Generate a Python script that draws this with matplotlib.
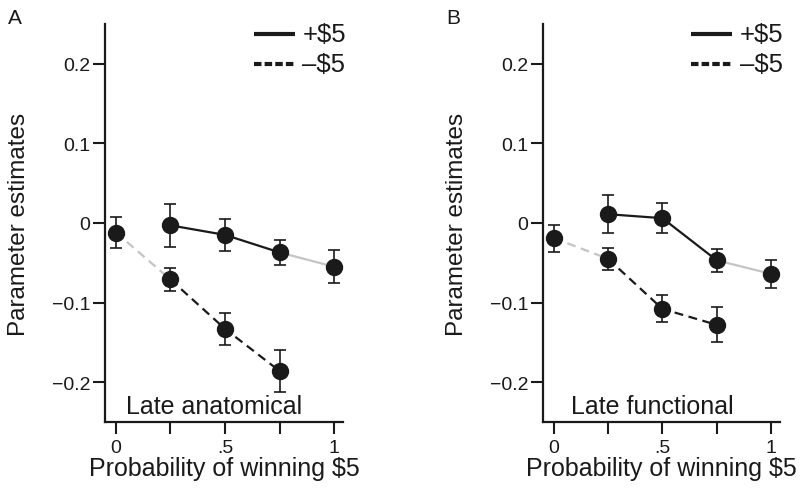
import matplotlib
matplotlib.use("Agg")
import matplotlib.pyplot as plt

plt.rcParams['font.family'] = ['Liberation Sans', 'DejaVu Sans']

# probability of winning $5
probs = [0.0, 0.25, 0.5, 0.75, 1.0]
xtick_labels = ['0', '', '.5', '', '1']
yticks = [-0.2, -0.1, 0.0, 0.1, 0.2]
ytick_labels = ['\u22120.2', '\u22120.1', '0', '0.1', '0.2']

# Late anatomical ROI
anat_zero, anat_zero_err = -0.012, 0.019
anat_pos = [-0.003, -0.015, -0.037, -0.055]      # +$5 at p = .25, .5, .75, 1
anat_pos_err = [0.027, 0.020, 0.016, 0.021]
anat_neg = [-0.071, -0.133, -0.186]              # -$5 at p = .25, .5, .75
anat_neg_err = [0.015, 0.020, 0.026]

# Late functional ROI
func_zero, func_zero_err = -0.019, 0.017
func_pos = [0.011, 0.006, -0.047, -0.064]
func_pos_err = [0.024, 0.019, 0.014, 0.018]
func_neg = [-0.045, -0.108, -0.128]
func_neg_err = [0.014, 0.017, 0.022]

BLACK = '#1a1a1a'
GREY = '#c4c4c4'


def draw_panel(ax, zero, zero_err, pos, pos_err, neg, neg_err, title):
    pos_x = probs[1:]
    neg_x = probs[1:4]

    # grey connectors to the certain outcomes
    ax.plot([probs[0], neg_x[0]], [zero, neg[0]], color=GREY, lw=1.6,
            dashes=(4, 2.5), zorder=1)
    ax.plot(pos_x[2:], pos[2:], color=GREY, lw=1.6, zorder=1)
    # black lines for the uncertain outcomes
    ax.plot(pos_x[:3], pos[:3], color=BLACK, lw=1.6, zorder=2)
    ax.plot(neg_x, neg, color=BLACK, lw=1.6, dashes=(4, 2.5), zorder=2)

    xs = [probs[0]] + pos_x + neg_x
    ys = [zero] + pos + neg
    es = [zero_err] + pos_err + neg_err
    ax.errorbar(xs, ys, yerr=es, fmt='none', ecolor=BLACK, elinewidth=1.2,
                capsize=4.5, capthick=1.2, zorder=3)
    ax.plot(xs, ys, 'o', color=BLACK, markersize=11.5, zorder=4)

    ax.set_xlim(-0.05, 1.04)
    ax.set_ylim(-0.25, 0.25)
    ax.set_xticks(probs)
    ax.set_xticklabels(xtick_labels)
    ax.set_yticks(yticks)
    ax.set_yticklabels(ytick_labels)
    ax.tick_params(direction='out', length=8.5, width=1.5, labelsize=14,
                   colors=BLACK)
    ax.tick_params(axis='y', pad=2)
    ax.tick_params(axis='x', pad=4)
    for s in ['top', 'right']:
        ax.spines[s].set_visible(False)
    for s in ['left', 'bottom']:
        ax.spines[s].set_linewidth(1.6)
        ax.spines[s].set_color(BLACK)

    ax.set_xlabel('Probability of winning $5', fontsize=18, color=BLACK,
                  labelpad=0)
    ax.set_ylabel('Parameter estimates', fontsize=17.5, color=BLACK,
                  labelpad=16)
    ax.text(0.46, 0.04, title, transform=ax.transAxes, fontsize=18,
            color=BLACK, ha='center', va='center')

    # legend
    ax.plot([0.626, 0.798], [0.975, 0.975], transform=ax.transAxes,
            color=BLACK, lw=3, clip_on=False, solid_capstyle='butt')
    ax.plot([0.626, 0.798], [0.899, 0.899], transform=ax.transAxes,
            color=BLACK, lw=3, dashes=(1.8, 0.75), clip_on=False,
            dash_capstyle='butt')
    ax.text(0.83, 0.975, '+$5', transform=ax.transAxes, fontsize=18.5,
            color=BLACK, va='center')
    ax.text(0.83, 0.899, '\u2013$5', transform=ax.transAxes, fontsize=18.5,
            color=BLACK, va='center')

    return ax


fig = plt.figure(figsize=(8.09, 4.89), dpi=100)
ax_a = fig.add_axes([0.1298, 0.135, 0.294, 0.814])
ax_b = fig.add_axes([0.671, 0.135, 0.293, 0.814])

draw_panel(ax_a, anat_zero, anat_zero_err, anat_pos, anat_pos_err,
           anat_neg, anat_neg_err, 'Late anatomical')
draw_panel(ax_b, func_zero, func_zero_err, func_pos, func_pos_err,
           func_neg, func_neg_err, 'Late functional')

fig.text(8 / 809, 1 - 18 / 489, 'A', fontsize=15, color=BLACK, va='center')
fig.text(446 / 809, 1 - 18 / 489, 'B', fontsize=15, color=BLACK, va='center')

fig.savefig('out.png', dpi=100)
